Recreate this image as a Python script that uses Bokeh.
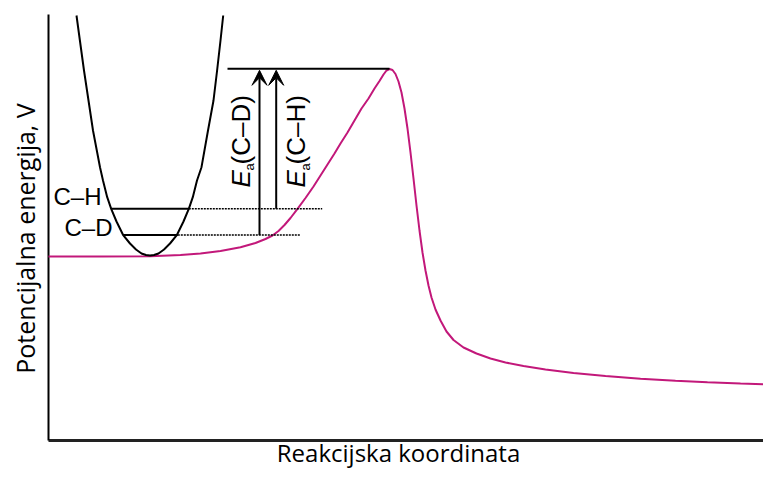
import math
from bokeh.plotting import figure
from bokeh.models import Range1d, Label, Arrow, VeeHead
from bokeh.embed import file_html
from bokeh.resources import INLINE

# ---- data (arbitrary units: reaction coordinate, potential energy) ----
# potential energy curve along the reaction coordinate
curve_x = [0, 52, 102, 132, 152, 172, 192, 207, 217, 224, 230, 236, 242, 249, 257,
           265, 272, 279, 286, 292, 299, 306, 313, 320, 326, 331, 335, 338, 341, 344,
           347, 350, 353, 356, 359, 362, 365, 368, 371, 374, 377, 380, 383, 387, 392,
           398, 405, 415, 428, 442, 457, 475, 497, 525, 557, 592, 627, 659, 692, 723]
curve_y = [184, 184, 184.3, 185.5, 187, 189.5, 193.3, 197.5, 201.5, 205, 209.5, 215.5,
           222.5, 231.7, 242.5, 254, 265, 276, 287, 297, 308, 320, 332, 342, 352, 359.5,
           366, 370, 371.5, 370.5, 366.5, 359, 348, 332, 312, 288, 262, 235, 210, 188,
           170, 155, 143, 131, 120, 109, 100.5, 93, 87, 82, 78, 74.5, 71, 67.5, 64.5,
           61.7, 59.7, 58.2, 57, 56]

# C-H bond potential well
well_x = [28, 31.4, 35.5, 40, 44.5, 51.5, 54.5, 58.7, 62.7, 68, 74.5, 81.5, 87.5, 93,
          97.5, 101.5, 105.5, 110, 115.5, 121.5, 128.5, 135, 140.3, 144.3, 148.5, 153,
          159.5, 165, 168.6, 172, 174.7]
well_y = [425, 400, 370, 340, 310, 273.3, 260, 243.3, 231.7, 219, 205.7, 197, 191, 187,
          185.5, 185, 185.5, 187, 191, 197, 205.7, 219, 231.7, 243.3, 260, 273.3, 310,
          340, 370, 400, 425]

# zero-point levels
level_names = ["C\u2013H", "C\u2013D"]
level_y = [231.7, 205.5]
level_solid_x0 = [62.7, 74.5]
level_solid_x1 = [140.3, 129.3]
level_dot_x1 = [273.7, 252.0]

# transition state level
ts_y = 371.7
ts_x0, ts_x1 = 179, 341

# activation-energy arrows (C-D, C-H)
arrow_x = [211, 227.7]
arrow_y0 = [205.5, 231.7]
arrow_names = ["(C\u2013D)", "(C\u2013H)"]

# axes extent
x_max = 723
y_max = 426

x_label = "Reakcijska koordinata"
y_label = "Potencijalna energija, V"

MAGENTA = "#C2187A"

p = figure(width=763, height=471, output_backend="svg", toolbar_location=None,
           x_range=Range1d(-48, 715), y_range=Range1d(-31, 440),
           min_border_left=0, min_border_right=0, min_border_top=0, min_border_bottom=0)
p.outline_line_color = None
p.grid.visible = False
p.xaxis.visible = False
p.yaxis.visible = False
p.background_fill_color = "white"
p.border_fill_color = "white"

# axis lines
p.segment(x0=[0], y0=[0], x1=[x_max], y1=[0], line_color="#222222", line_width=3)
p.segment(x0=[0], y0=[0], x1=[0], y1=[y_max], line_color="black", line_width=2)

# magenta reaction curve
p.line(curve_x, curve_y, line_color=MAGENTA, line_width=2)
# potential well
p.line(well_x, well_y, line_color="black", line_width=2)

# zero-point levels: solid inside the well, dotted to the curve
p.segment(x0=level_solid_x0, y0=level_y, x1=level_solid_x1, y1=level_y,
          line_color="black", line_width=2)
p.segment(x0=level_solid_x1, y0=level_y, x1=level_dot_x1, y1=level_y,
          line_color="black", line_width=1.5, line_dash="2 1")

# transition-state level
p.segment(x0=[ts_x0], y0=[ts_y], x1=[ts_x1], y1=[ts_y], line_color="black", line_width=2)

for ax_, ay in zip(arrow_x, arrow_y0):
    p.add_layout(Arrow(end=VeeHead(size=15, fill_color="black", line_color="black",
                                   line_width=1),
                       x_start=ax_, y_start=ay, x_end=ax_, y_end=ts_y - 1.5,
                       line_color="black", line_width=2))

# level labels
FONT = "Liberation Sans"
p.add_layout(Label(x=5, y=230.5, text=level_names[0], text_font=FONT,
                   text_font_size="24px", text_color="black"))
p.add_layout(Label(x=16, y=200, text=level_names[1], text_font=FONT,
                   text_font_size="24px", text_color="black"))

# rotated E_a labels
for bx, name in [(192, arrow_names[0]), (247.5, arrow_names[1])]:
    p.add_layout(Label(x=bx, y=253, text="E", angle=math.pi / 2, text_font=FONT,
                       text_font_style="italic", text_font_size="26px", text_color="black",
                       text_align="left", text_baseline="alphabetic"))
    p.add_layout(Label(x=bx + 9, y=270, text="a", angle=math.pi / 2, text_font=FONT,
                       text_font_size="13px", text_color="black",
                       text_align="left", text_baseline="alphabetic"))
    p.add_layout(Label(x=bx, y=276, text=name, angle=math.pi / 2, text_font=FONT,
                       text_font_size="26px", text_color="black",
                       text_align="left", text_baseline="alphabetic"))

# axis titles
AXF = "Open Sans"
p.add_layout(Label(x=350, y=-12, text=x_label, text_font=AXF, text_font_size="24px",
                   text_align="center", text_baseline="alphabetic", text_color="black"))
p.add_layout(Label(x=-24, y=202, text=y_label, text_font=AXF, text_font_size="25px",
                   angle=math.pi / 2, text_align="center", text_baseline="middle",
                   text_color="black"))

open("out.html", "w").write(file_html(p, INLINE))
